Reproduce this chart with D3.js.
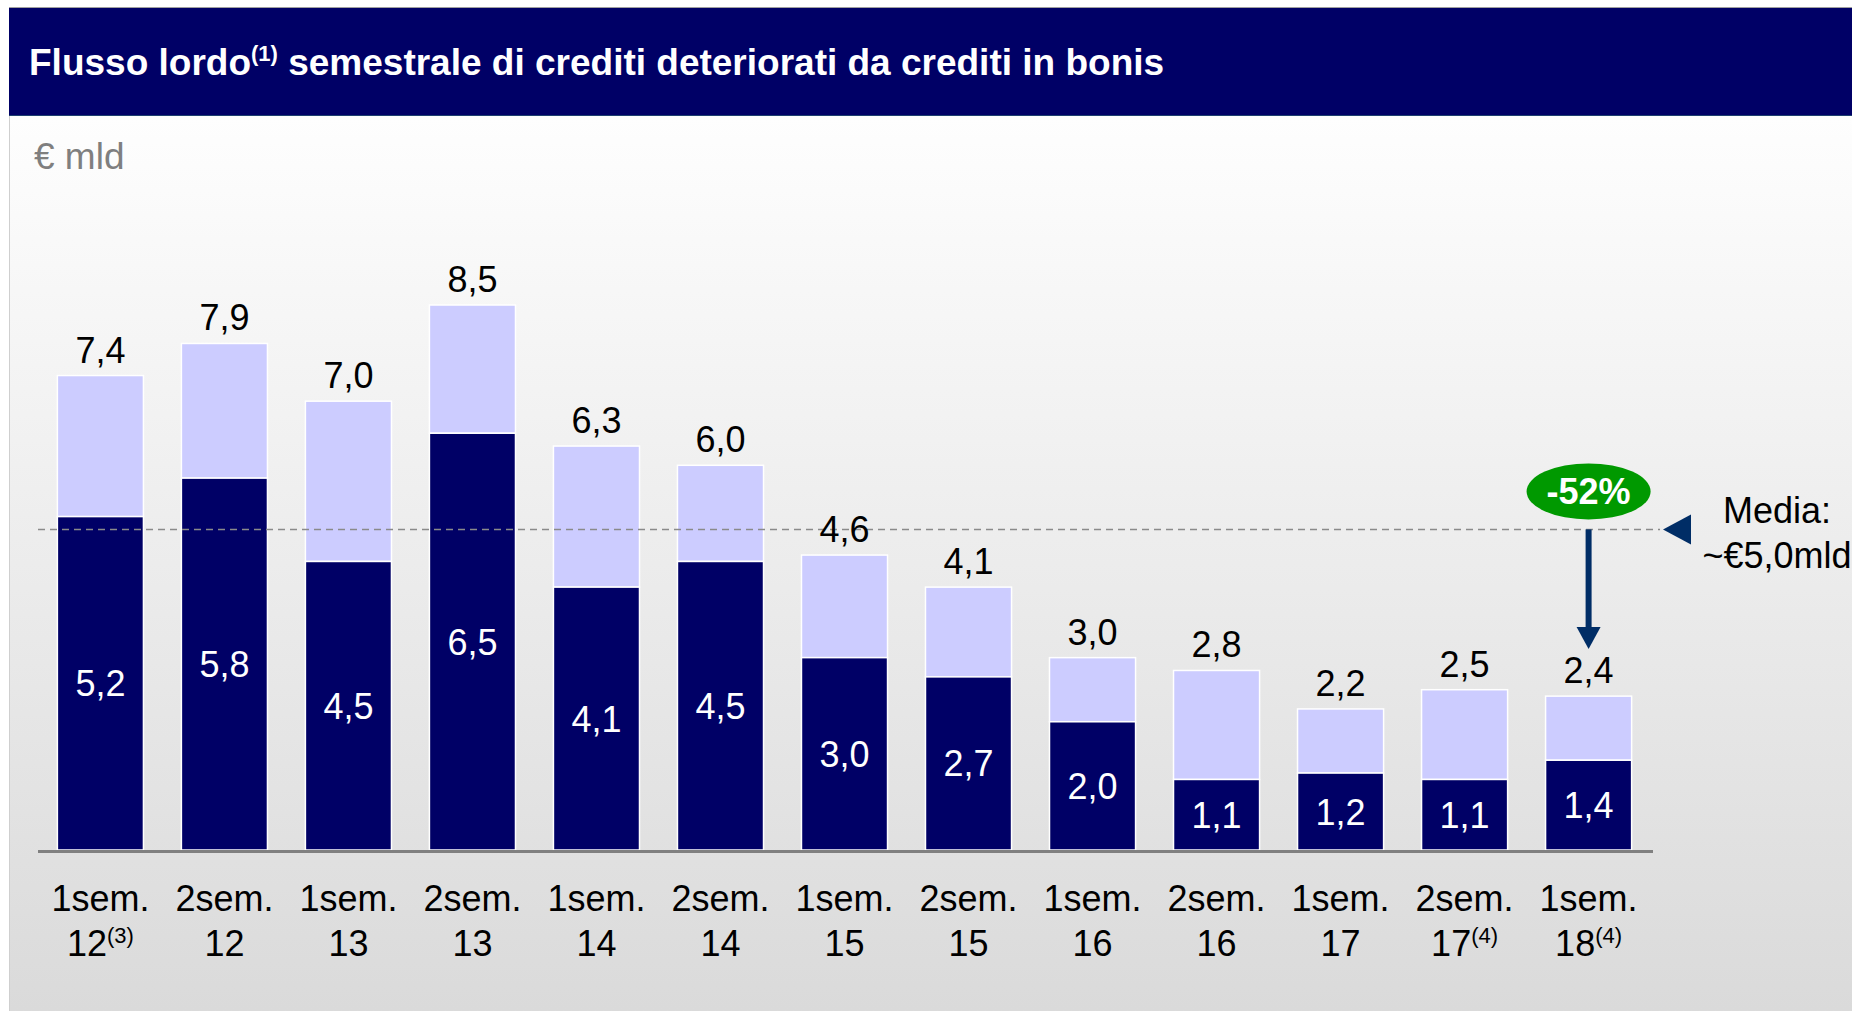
<!DOCTYPE html>
<html>
  <head>
    <meta charset="utf-8">
    <title>Flusso lordo</title>
    <script src="https://d3js.org/d3.v7.min.js"></script>
    <style>
      body { margin: 0; background: #fff; }
      svg { display: block; font-family: "Liberation Sans", Arial, sans-serif; }
      .title { fill: #fff; font-weight: bold; font-size: 37px; }
      .unit { fill: #7f7f7f; font-size: 37px; }
      .total { fill: #000; font-size: 36px; text-anchor: middle; }
      .inner { fill: #fff; font-size: 36px; text-anchor: middle; }
      .cat { fill: #000; font-size: 36px; text-anchor: middle; }
      .note { font-size: 22px; }
      .media { fill: #000; font-size: 36px; text-anchor: middle; }
    </style>
  </head>
  <body>
    <svg width="1852" height="1011"></svg>
    <script>
      const semesters = ["1sem.", "2sem.", "1sem.", "2sem.", "1sem.", "2sem.", "1sem.",
                         "2sem.", "1sem.", "2sem.", "1sem.", "2sem.", "1sem."];
      const years = ["12", "12", "13", "13", "14", "14", "15", "15", "16", "16", "17", "17", "18"];
      const notes = ["(3)", "", "", "", "", "", "", "", "", "", "", "(4)", "(4)"];
      const totals = [7.4, 7.9, 7.0, 8.5, 6.3, 6.0, 4.6, 4.1, 3.0, 2.8, 2.2, 2.5, 2.4];
      const darkPart = [5.2, 5.8, 4.5, 6.5, 4.1, 4.5, 3.0, 2.7, 2.0, 1.1, 1.2, 1.1, 1.4];
      const average = 5.0;
      const changeLabel = "-52%";

      const svg = d3.select("svg");
      const width = +svg.attr("width");
      const height = +svg.attr("height");
      const fmt = d3.formatLocale({decimal: ",", thousands: ".", grouping: [3], currency: ["€", ""]}).format(".1f");

      const navy = "#000066";
      const light = "#ccccff";
      const arrowBlue = "#002d66";

      // background gradient panel
      const defs = svg.append("defs");
      const grad = defs.append("linearGradient")
        .attr("id", "bg").attr("x1", 0).attr("y1", 0).attr("x2", 0).attr("y2", 1);
      grad.append("stop").attr("offset", "0%").attr("stop-color", "#fefefe");
      grad.append("stop").attr("offset", "100%").attr("stop-color", "#dadada");

      svg.append("rect")
        .attr("x", 9).attr("y", 116).attr("width", width - 9).attr("height", height - 116)
        .attr("fill", "url(#bg)");
      svg.append("line")
        .attr("x1", 9.5).attr("x2", 9.5).attr("y1", 116).attr("y2", height)
        .attr("stroke", "#cfcfcf").attr("stroke-width", 1);

      // title band
      svg.append("line")
        .attr("x1", 9).attr("x2", width).attr("y1", 7.5).attr("y2", 7.5)
        .attr("stroke", "#a0a0a0").attr("stroke-width", 1);
      svg.append("rect")
        .attr("x", 9).attr("y", 8).attr("width", width - 9).attr("height", 108)
        .attr("fill", navy);
      svg.append("line")
        .attr("x1", 9).attr("x2", width).attr("y1", 115.5).attr("y2", 115.5)
        .attr("stroke", "#1d3f70").attr("stroke-width", 1);

      const title = svg.append("text").attr("class", "title").attr("x", 29).attr("y", 75);
      title.append("tspan").text("Flusso lordo");
      title.append("tspan").attr("dy", -14).style("font-size", "22px").text("(1)");
      title.append("tspan").attr("dy", 14).text(" semestrale di crediti deteriorati da crediti in bonis");

      svg.append("text").attr("class", "unit").attr("x", 34).attr("y", 169).text("€ mld");

      const xScale = d3.scaleBand()
        .domain(d3.range(totals.length))
        .range([38.4, 1650.6])
        .paddingInner(0.306)
        .paddingOuter(0.153);
      const yScale = d3.scaleLinear()
        .domain([0, 8.5])
        .range([850, 305]);

      const g = svg.append("g");

      // light top segment (total)
      g.selectAll(".bar-total").data(totals).enter().append("rect")
        .attr("class", "bar-total")
        .attr("x", (d, i) => xScale(i))
        .attr("y", d => yScale(d))
        .attr("width", xScale.bandwidth())
        .attr("height", (d, i) => yScale(darkPart[i]) - yScale(d))
        .attr("fill", light)
        .attr("stroke", "#fff").attr("stroke-width", 1.5);

      // dark bottom segment
      g.selectAll(".bar-dark").data(darkPart).enter().append("rect")
        .attr("class", "bar-dark")
        .attr("x", (d, i) => xScale(i))
        .attr("y", d => yScale(d))
        .attr("width", xScale.bandwidth())
        .attr("height", d => yScale(0) - yScale(d))
        .attr("fill", navy)
        .attr("stroke", "#fff").attr("stroke-width", 1.5);

      // average dashed line
      g.append("line")
        .attr("x1", 38).attr("x2", 1660)
        .attr("y1", yScale(average)).attr("y2", yScale(average))
        .attr("stroke", "#8a8a8a").attr("stroke-width", 1.5)
        .attr("stroke-dasharray", "7,5");

      // baseline
      g.append("line")
        .attr("x1", 38).attr("x2", 1653)
        .attr("y1", yScale(0) + 1.5).attr("y2", yScale(0) + 1.5)
        .attr("stroke", "#808080").attr("stroke-width", 3);

      // labels
      g.selectAll(".total").data(totals).enter().append("text")
        .attr("class", "total")
        .attr("x", (d, i) => xScale(i) + xScale.bandwidth() / 2)
        .attr("y", d => yScale(d) - 13)
        .text(d => fmt(d));

      g.selectAll(".inner").data(darkPart).enter().append("text")
        .attr("class", "inner")
        .attr("x", (d, i) => xScale(i) + xScale.bandwidth() / 2)
        .attr("y", d => (yScale(d) + yScale(0)) / 2 + 13)
        .text(d => fmt(d));

      // category labels
      const cats = g.selectAll(".cat").data(semesters).enter().append("g")
        .attr("class", "cat")
        .attr("transform", (d, i) => `translate(${xScale(i) + xScale.bandwidth() / 2},0)`);
      cats.append("text").attr("y", 911).text(d => d);
      const yr = cats.append("text").attr("y", 956);
      yr.append("tspan").text((d, i) => years[i]);
      yr.append("tspan").attr("class", "note").attr("dy", -13).text((d, i) => notes[i]);

      // average marker
      const ya = yScale(average);
      g.append("path")
        .attr("d", `M1663,${ya} L1691,${ya - 15} L1691,${ya + 15} Z`)
        .attr("fill", arrowBlue);
      g.append("text").attr("class", "media").attr("x", 1777).attr("y", 523).text("Media:");
      g.append("text").attr("class", "media").attr("x", 1777).attr("y", 568).text("~€" + fmt(average) + "mld");

      // change arrow on last bar
      const last = totals.length - 1;
      const cx = xScale(last) + xScale.bandwidth() / 2;
      const tipY = yScale(totals[last]) - 47;
      g.append("line")
        .attr("x1", cx).attr("x2", cx)
        .attr("y1", ya).attr("y2", tipY - 20)
        .attr("stroke", arrowBlue).attr("stroke-width", 6);
      g.append("path")
        .attr("d", `M${cx - 12},${tipY - 22} L${cx + 12},${tipY - 22} L${cx},${tipY} Z`)
        .attr("fill", arrowBlue);

      g.append("ellipse")
        .attr("cx", cx).attr("cy", ya - 38)
        .attr("rx", 62).attr("ry", 28)
        .attr("fill", "#009900");
      g.append("text")
        .attr("x", cx).attr("y", ya - 25)
        .attr("text-anchor", "middle")
        .attr("fill", "#fff").style("font-weight", "bold").style("font-size", "36px")
        .text(changeLabel);
    </script>
  </body>
</html>
